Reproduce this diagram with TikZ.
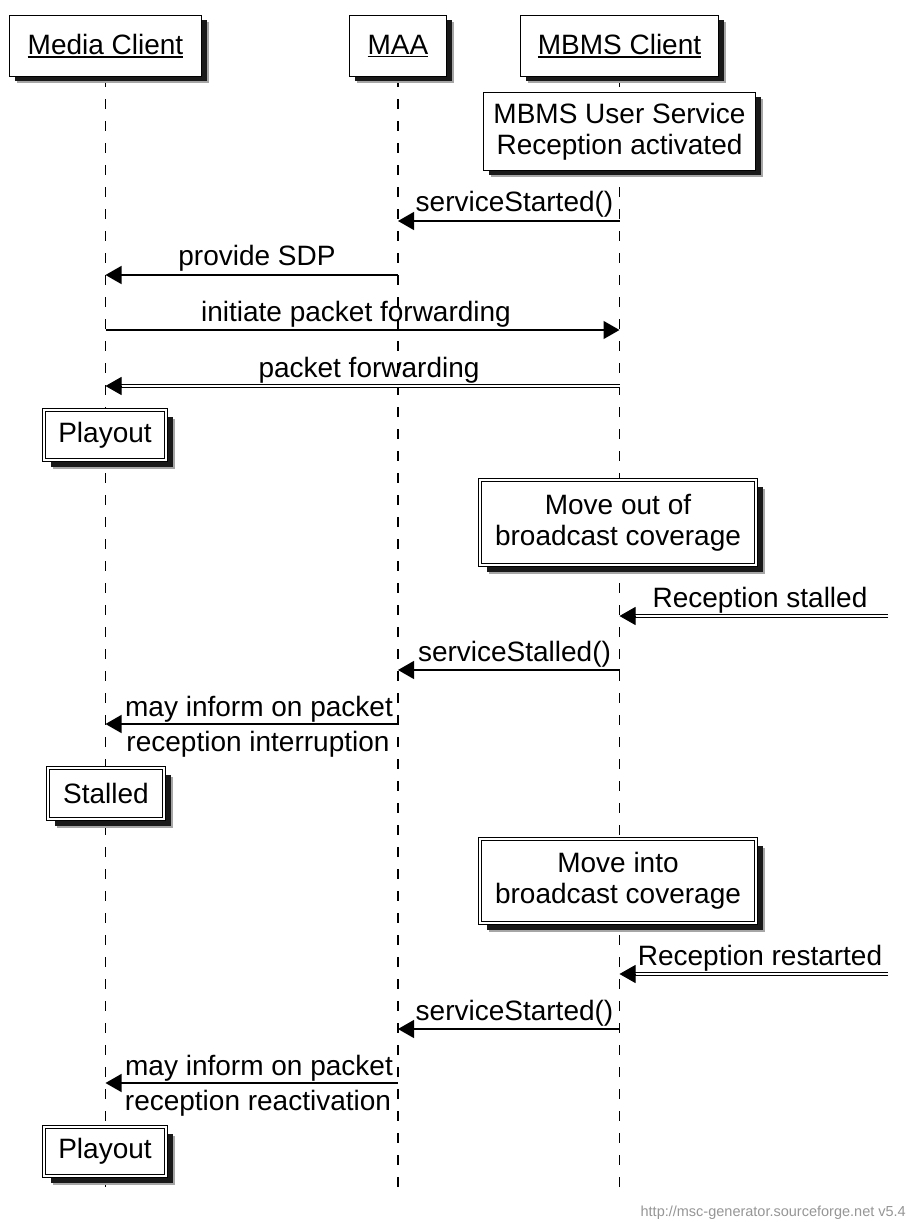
\documentclass[tikz,border=0pt]{standalone}
\usepackage{fontspec}
\setmainfont{Liberation Sans}
\usetikzlibrary{arrows.meta,shadows,calc}
\pgfdeclarelayer{bg}
\pgfsetlayers{bg,main}
\definecolor{footgray}{RGB}{150,150,150}
\newcommand\myul[1]{\setbox0=\hbox{#1}\rlap{\rule[-3.2pt]{\wd0}{1.3pt}}\box0}
\begin{document}
\begin{tikzpicture}[x=1pt,y=-1pt,
  every node/.style={font=\fontsize{28}{31}\selectfont, inner sep=0pt},
  shadS/.style={drop shadow={shadow xshift=7pt,shadow yshift=-7pt,fill=black!35,opacity=1},
                drop shadow={shadow xshift=5pt,shadow yshift=-5pt,fill=black!90,opacity=1}},
  shadD/.style={drop shadow={shadow xshift=8.5pt,shadow yshift=-8.5pt,fill=black!35,opacity=1},
                drop shadow={shadow xshift=6.5pt,shadow yshift=-6.5pt,fill=black!90,opacity=1}},
  headbox/.style={draw, fill=white, line width=1.4pt, shadS, align=center},
  ebox/.style={draw, fill=white, line width=1.3pt, shadS, align=center},
  dbox/.style={draw, double=white, double distance=1.8pt, line width=1.2pt, fill=white, shadD, align=center},
  lifeline/.style={line width=1.3pt, dash pattern=on 10pt off 12pt},
  msg/.style={line width=1.3pt, -{Triangle[length=16pt,width=18pt]}},
  dblmsg/.style={line width=1.1pt, double=white, double distance=2pt, shorten >=12pt},
  tipmsg/.style={line width=1pt, -{Triangle[length=16pt,width=18pt]}},
  lbl/.style={anchor=base},
  foot/.style={anchor=base east, font=\fontsize{14.5}{17}\selectfont, text=footgray}
]
\useasboundingbox (0,0) rectangle (908,1222);

% headers
\node[headbox, minimum width=192pt, minimum height=61pt] (hA) at (105.5,46) {\myul{Media Client}};
\node[headbox, minimum width=97pt, minimum height=61pt] (hB) at (398,46) {\myul{MAA}};
\node[headbox, minimum width=198pt, minimum height=61pt] (hC) at (619.5,46) {\myul{MBMS Client}};

% lifeline ends
\coordinate (eA) at (105.5,1194);
\coordinate (eB) at (398,1194);
\coordinate (eC) at (619.5,1194);

\begin{pgfonlayer}{bg}
  \fill[white] (0,0) rectangle (908,1222);
  \draw[lifeline] (hA.south) -- (eA);
  \draw[lifeline] (hB.south) -- (eB);
  \draw[lifeline] (hC.south) -- (eC);
\end{pgfonlayer}

\node[ebox, minimum width=272pt, minimum height=78pt] (us) at (619.5,131.5) {MBMS User Service\\Reception activated};

% message anchor points
\coordinate (c1) at (619.5,221);  \coordinate (b1) at (398,221);
\coordinate (b2) at (398,275);    \coordinate (a2) at (105.5,275);
\coordinate (a3) at (105.5,330);  \coordinate (c3) at (619.5,330);
\coordinate (c4) at (619.5,386);  \coordinate (a4) at (105.5,386);
\coordinate (r5) at (888,616);    \coordinate (c5) at (619.5,616);
\coordinate (c6) at (619.5,670);  \coordinate (b6) at (398,670);
\coordinate (b7) at (398,724);    \coordinate (a7) at (105.5,724);
\coordinate (r8) at (888,974);    \coordinate (c8) at (619.5,974);
\coordinate (c9) at (619.5,1029); \coordinate (b9) at (398,1029);
\coordinate (b10) at (398,1083);  \coordinate (a10) at (105.5,1083);

% messages
\draw[msg] (c1) -- (b1);
\node[lbl] (l1) at (514.5,212) {serviceStarted()};

\draw[msg] (b2) -- (a2);
\node[lbl] (l2) at (257,266) {provide SDP};

\draw[msg] (a3) -- (c3);
\node[lbl] (l3) at (356,321) {initiate packet forwarding};

\draw[dblmsg] (c4) -- (a4);
\draw[tipmsg] ($(a4)!16.5pt!(c4)$) -- (a4);
\node[lbl] (l4) at (369,377) {packet forwarding};

\node[dbox, minimum width=122pt, minimum height=50pt] (p1) at (105,435) {Playout};

\node[dbox, minimum width=276pt, minimum height=85pt] (mo) at (618,522.5) {Move out of\\broadcast coverage};

\draw[dblmsg] (r5) -- (c5);
\draw[tipmsg] ($(c5)!16.5pt!(r5)$) -- (c5);
\node[lbl] (l5) at (760,607) {Reception stalled};

\draw[msg] (c6) -- (b6);
\node[lbl] (l6) at (514.5,661) {serviceStalled()};

\draw[msg] (b7) -- (a7);
\node[lbl] (l7a) at (259,716) {may inform on packet};
\node[lbl] (l7b) at (258,751) {reception interruption};

\node[dbox, minimum width=116pt, minimum height=51pt] (st) at (106,793.5) {Stalled};

\node[dbox, minimum width=276pt, minimum height=84pt] (mi) at (618,881) {Move into\\broadcast coverage};

\draw[dblmsg] (r8) -- (c8);
\draw[tipmsg] ($(c8)!16.5pt!(r8)$) -- (c8);
\node[lbl] (l8) at (760,965) {Reception restarted};

\draw[msg] (c9) -- (b9);
\node[lbl] (l9) at (514.5,1020) {serviceStarted()};

\draw[msg] (b10) -- (a10);
\node[lbl] (l10a) at (259,1075) {may inform on packet};
\node[lbl] (l10b) at (258,1110) {reception reactivation};

\node[dbox, minimum width=122pt, minimum height=49pt] (p2) at (105,1151.5) {Playout};

\node[foot] (ft) at (906,1216) {http://msc-generator.sourceforge.net v5.4};
\end{tikzpicture}
\end{document}
